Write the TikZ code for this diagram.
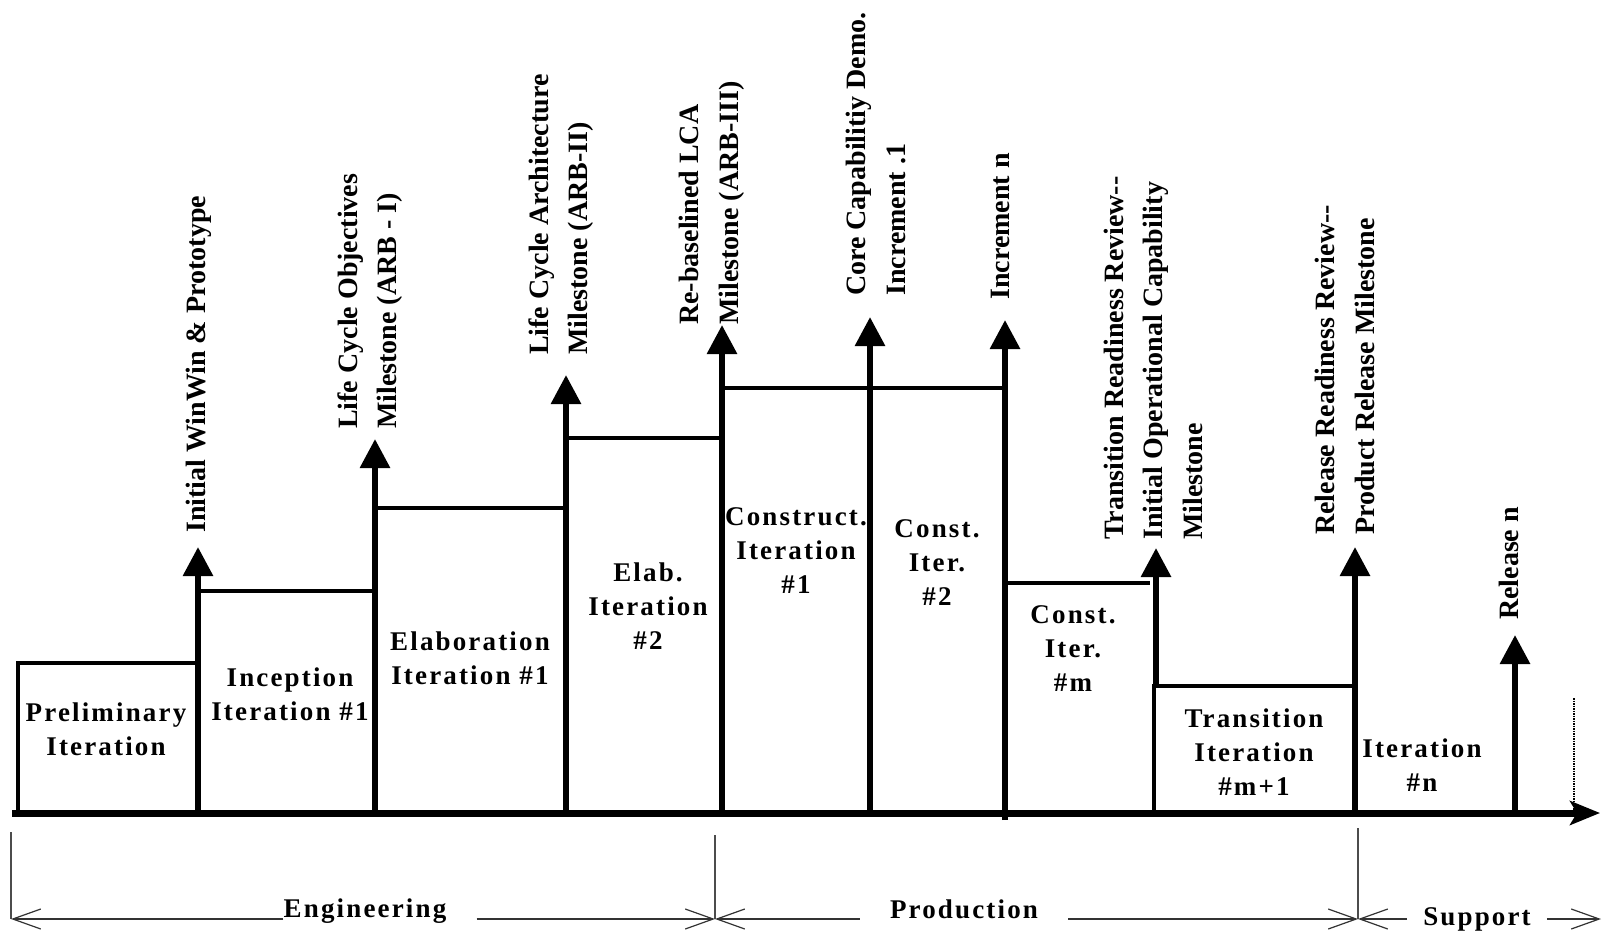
\documentclass[tikz,border=0pt]{standalone}
\usepackage{fontspec}
\setmainfont{Liberation Serif}
\usepackage{tikz}
\usetikzlibrary{arrows.meta,positioning}

\begin{document}
\begin{tikzpicture}[
    x=1pt, y=-1pt,
    box/.style={line width=4pt},
    arrow/.style={line width=6pt, -{Triangle[length=29pt,width=29pt]}},
    timeline/.style={line width=7pt, -{Stealth[length=30pt,width=24pt,inset=7pt]}},
    dim/.style={line width=1.2pt, draw=black!80, -{Straight Barb[length=28pt,width=20pt]}},
    phasetick/.style={line width=1.2pt, draw=black!70},
    mlabel/.style={rotate=90, anchor=west, inner sep=0pt, align=left, font=\fontsize{28}{39.5}\selectfont\bfseries},
    blabel/.style={align=center, inner sep=0pt, font=\fontsize{27}{34}\selectfont\bfseries\addfontfeature{LetterSpace=8}},
    phase/.style={anchor=base, inner xsep=16pt, inner ysep=0pt, font=\fontsize{27}{34}\selectfont\bfseries\addfontfeature{LetterSpace=8}}
]
\useasboundingbox (0,0) rectangle (1602,931);

\coordinate (o) at (12,813);
\coordinate (e) at (1600,813);
\coordinate (m1) at (198,813);  \coordinate (m1t) at (198,547);
\coordinate (m2) at (375,813);  \coordinate (m2t) at (375,439);
\coordinate (m3) at (566,813);  \coordinate (m3t) at (566,375);
\coordinate (m4) at (722,813);  \coordinate (m4t) at (722,325);
\coordinate (m5) at (870,813);  \coordinate (m5t) at (870,317);
\coordinate (m6) at (1005,820); \coordinate (m6t) at (1005,320);
\coordinate (m7) at (1156,686); \coordinate (m7t) at (1156,548);
\coordinate (m8) at (1355,813); \coordinate (m8t) at (1355,547);
\coordinate (m9) at (1515,813); \coordinate (m9t) at (1515,635);

\draw[box] (18,813) -- (18,663) -- (198,663);
\draw[box] (198,591) -- (375,591);
\draw[box] (375,508) -- (566,508);
\draw[box] (566,438) -- (722,438);
\draw[box] (722,388) -- (1005,388);
\draw[box] (1005,583) -- (1150,583);
\draw[box] (1154,813) -- (1154,686) -- (1355,686);
\draw[densely dotted, line width=1.5pt] (1574,698) -- (1574,810);

\draw[arrow] (m1) -- (m1t);
\draw[arrow] (m2) -- (m2t);
\draw[arrow] (m3) -- (m3t);
\draw[arrow] (m4) -- (m4t);
\draw[arrow] (m5) -- (m5t);
\draw[arrow] (m6) -- (m6t);
\draw[arrow] (m7) -- (m7t);
\draw[arrow] (m8) -- (m8t);
\draw[arrow] (m9) -- (m9t);
\draw[timeline] (o) -- (e);

\node[mlabel] (winwin) at (199,533) {Initial WinWin \& Prototype};
\node[mlabel] (lco) at (370,429) {Life Cycle Objectives\\Milestone (ARB - I)};
\node[mlabel] (lca) at (561,355) {Life Cycle Architecture\\Milestone (ARB-II)};
\node[mlabel] (rlca) at (712,325) {Re-baselined LCA\\Milestone (ARB-III)};
\node[mlabel] (ccd) at (876,296) {Core Capabilitiy Demo.\\Increment .1};
\node[mlabel] (incn) at (1000,300) {Increment n};
\node[mlabel] (trr) at (1153,540) {Transition Readiness Review-{}-\\Initial Operational Capability\\Milestone};
\node[mlabel] (rrr) at (1345,535) {Release Readiness Review-{}-\\Product Release Milestone};
\node[mlabel] (reln) at (1509,620) {Release n};

\node[blabel] (prelim) at (106,729) {Preliminary\\Iteration};
\node[blabel] (incep) at (290,694) {Inception\\Iteration \#1};
\node[blabel] (elab1) at (470,658) {Elaboration\\Iteration \#1};
\node[blabel] (elab2) at (648,606) {Elab.\\Iteration\\\#2};
\node[blabel] (cons1) at (796,551) {Construct.\\Iteration\\\#1};
\node[blabel] (cons2) at (937,563) {Const.\\Iter.\\\#2};
\node[blabel] (consm) at (1073,649) {Const.\\Iter.\\\#m};
\node[blabel] (trans) at (1254,752) {Transition\\Iteration\\\#m+1};
\node[blabel] (itern) at (1422,765) {Iteration\\\#n};

\coordinate (t0) at (11,919);
\coordinate (t1) at (715,919);
\coordinate (t2) at (1358,919);
\coordinate (t3) at (1601,919);
\draw[phasetick] (t0) -- ++(0,-87);
\draw[phasetick] (t1) -- ++(0,-84);
\draw[phasetick] (t2) -- ++(0,-91);

\node[phase, inner xsep=30pt] (eng) at (365,917) {Engineering};
\node[phase, inner xsep=30pt] (prod) at (964,918) {Production};
\node[phase] (sup) at (1477,925) {Support};

\draw[dim] ([xshift=30pt]eng.west |- t0) -- (t0);
\draw[dim] (eng.east |- t0) -- (t1);
\draw[dim] (prod.west |- t0) -- (t1);
\draw[dim] (prod.east |- t0) -- (t2);
\draw[dim] (sup.west |- t0) -- (t2);
\draw[dim] (sup.east |- t0) -- (t3);
\end{tikzpicture}
\end{document}
